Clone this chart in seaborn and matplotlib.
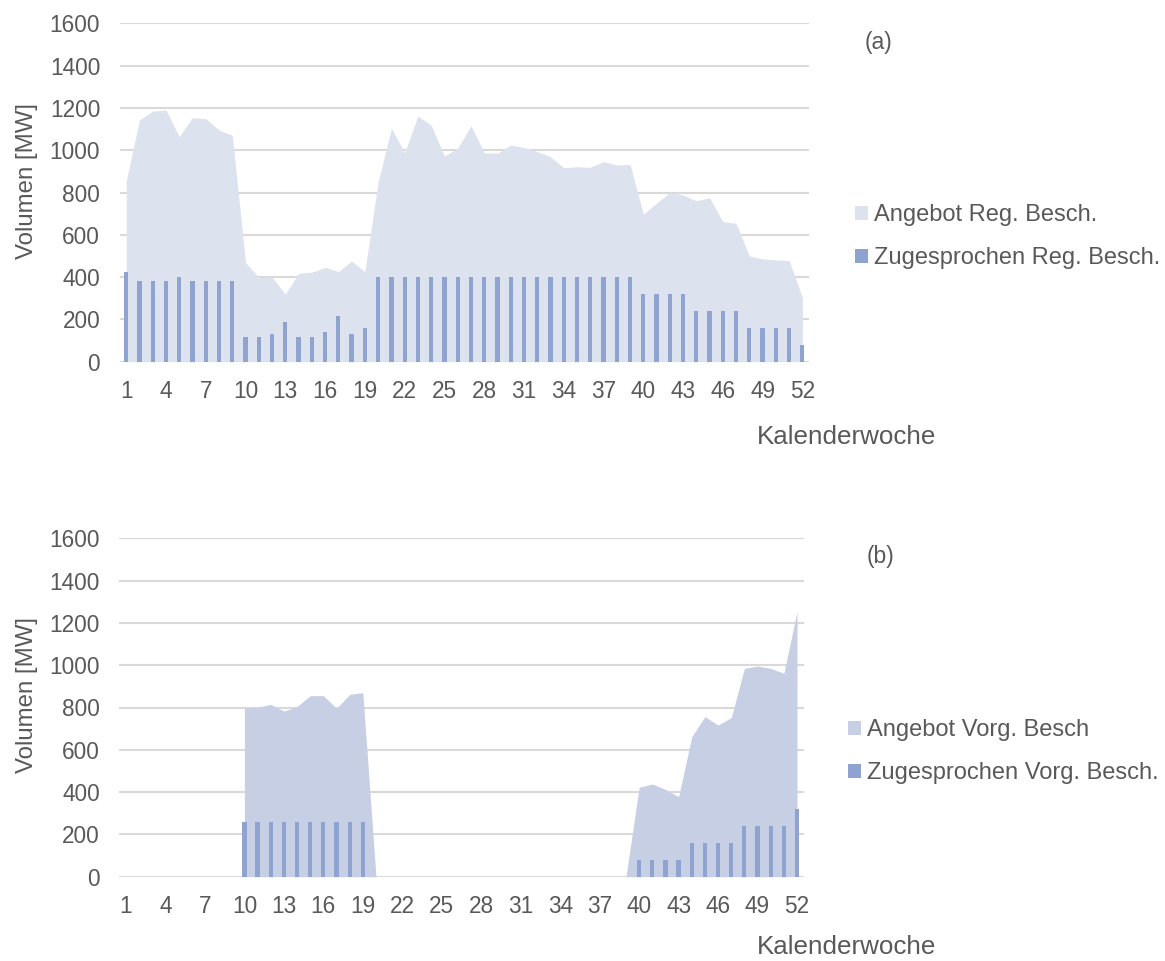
import numpy as np
import pandas as pd
import matplotlib
matplotlib.use("Agg")
import matplotlib.pyplot as plt
import seaborn as sns
from matplotlib.patches import Patch

sns.set_style("white")
plt.rcParams["font.family"] = ["Liberation Sans", "DejaVu Sans"]

weeks = list(range(1, 53))

# (a) Regelleistungs-Beschaffung
angebot_reg = [855, 1143, 1185, 1190, 1064, 1154, 1149, 1095, 1070, 468,
               400, 400, 319, 418, 423, 446, 426, 476, 426, 851,
               1103, 988, 1162, 1118, 973, 1009, 1116, 988, 985, 1024,
               1013, 993, 969, 917, 922, 919, 946, 930, 933, 698,
               749, 801, 788, 761, 775, 662, 654, 500, 486, 481,
               478, 304]
zugesprochen_reg = [424, 380, 380, 380, 400, 380, 380, 380, 380, 115,
                    115, 132, 190, 115, 115, 142, 216, 131, 158, 400,
                    400, 400, 400, 400, 400, 400, 400, 400, 400, 400,
                    400, 400, 400, 400, 400, 400, 400, 400, 400, 320,
                    320, 320, 320, 240, 240, 240, 240, 160, 160, 160,
                    160, 80]

# (b) Vorgezogene Beschaffung (Wochen 1-9 ohne Angebot)
angebot_vorg = ([np.nan] * 9
                + [796, 801, 815, 783, 804, 856, 856, 796, 862, 870]
                + [0] * 20
                + [423, 438, 413, 378, 662, 757, 717, 752, 985, 996, 985, 962, 1253])
zugesprochen_vorg = [0] * 9 + [260] * 10 + [0] * 20 + [80] * 4 + [160] * 4 + [240] * 4 + [320]

legend_a = ["Angebot Reg. Besch.", "Zugesprochen Reg. Besch."]
legend_b = ["Angebot Vorg. Besch", "Zugesprochen Vorg. Besch."]
y_ticks = [0, 200, 400, 600, 800, 1000, 1200, 1400, 1600]
x_ticks = list(range(1, 53, 3))

TXT = "#595959"
GRID = "#d9d9d9"
BAR = "#8fa3d0"
AREA_A = "#dce2ee"
AREA_B = "#c7cfe4"

W, H = 1165, 961
fig = plt.figure(figsize=(W / 100, H / 100), dpi=100)


def px_axes(x0, x1, y_top, y_bot):
    return fig.add_axes([x0 / W, 1 - y_bot / H, (x1 - x0) / W, (y_bot - y_top) / H])


def draw(ax, angebot, zugesprochen, area_color, labels, tag, tag_xy, leg_xy, title_y):
    df = pd.DataFrame({"Woche": weeks, "Angebot": angebot, "Zugesprochen": zugesprochen})
    ax.set_axisbelow(True)
    for t in y_ticks:
        ax.axhline(t, color=GRID, lw=1.5, zorder=0)
    ax.fill_between(df["Woche"], 0, df["Angebot"], color=area_color, lw=0, zorder=1)
    sns.barplot(data=df, x="Woche", y="Zugesprochen", native_scale=True,
                color=BAR, saturation=1, width=0.32, linewidth=0, ax=ax, zorder=2)
    ax.set_xlim(0.5, 52.5)
    ax.set_ylim(0, 1600)
    ax.set_xticks(x_ticks)
    ax.set_xticklabels([str(v) for v in x_ticks])
    ax.set_yticks(y_ticks)
    ax.tick_params(axis="both", length=0, labelsize=16.3, labelcolor=TXT)
    ax.tick_params(axis="x", pad=13)
    ax.tick_params(axis="y", pad=14)
    ax.set_xlabel("")
    ax.set_ylabel("")
    for s in ax.spines.values():
        s.set_visible(False)
    fig.text(27 / W, 1 - title_y / H, "Volumen [MW]", rotation=90, ha="center",
             va="center", fontsize=17.3, color=TXT)
    fig.text(tag_xy[0] / W, 1 - tag_xy[1] / H, tag, ha="center", va="center",
             fontsize=16.5, color=TXT)
    handles = [Patch(facecolor=area_color, edgecolor="none"),
               Patch(facecolor=BAR, edgecolor="none")]
    fig.legend(handles, labels, loc="upper left",
               bbox_to_anchor=(leg_xy[0] / W, 1 - leg_xy[1] / H),
               frameon=False, fontsize=17, labelcolor=TXT,
               handlelength=0.55, handleheight=0.55, handletextpad=0.25,
               labelspacing=0.9, borderpad=0, borderaxespad=0)


ax_a = px_axes(119.6, 809, 23.3, 361.7)
draw(ax_a, angebot_reg, zugesprochen_reg, AREA_A, legend_a, "(a)", (878, 43),
     (855, 204), 181)
fig.text(847 / W, 1 - 437 / H, "Kalenderwoche", ha="center", va="center",
         fontsize=18.7, color=TXT)

ax_b = px_axes(119.4, 803.6, 538.3, 876.7)
draw(ax_b, angebot_vorg, zugesprochen_vorg, AREA_B, legend_b, "(b)", (880, 556),
     (848, 719), 695)
fig.text(847 / W, 1 - 947 / H, "Kalenderwoche", ha="center", va="center",
         fontsize=18.7, color=TXT)

fig.savefig("out.png", dpi=100, facecolor="white")
